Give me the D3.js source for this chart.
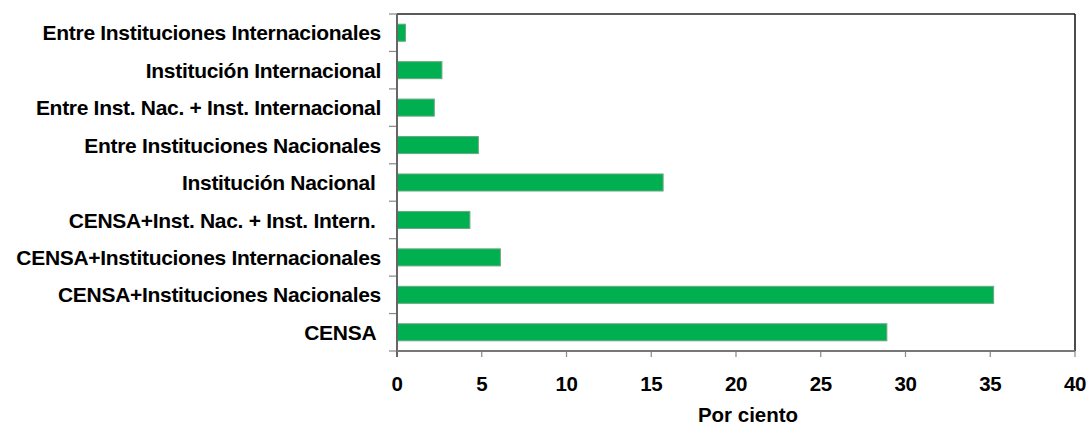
<!DOCTYPE html>
<html>
<head>
<meta charset="utf-8">
<script src="https://cdn.jsdelivr.net/npm/d3@7"></script>
<style>
  body { margin: 0; background: #fff; }
  svg { display: block; font-family: "Liberation Sans", Arial, sans-serif; }
  .lbl { font-weight: bold; white-space: pre; }
</style>
</head>
<body>
<svg id="chart"></svg>
<script>
// categories, top to bottom as shown
const categories = [
  'Entre Instituciones Internacionales',
  'Institución Internacional',
  'Entre Inst. Nac. + Inst. Internacional',
  'Entre Instituciones Nacionales',
  'Institución Nacional ',
  'CENSA+Inst. Nac. + Inst. Intern. ',
  'CENSA+Instituciones Internacionales',
  'CENSA+Instituciones Nacionales',
  'CENSA '
]
const values = [0.5, 2.65, 2.2, 4.8, 15.7, 4.3, 6.1, 35.2, 28.9]
const xTicks = [0, 5, 10, 15, 20, 25, 30, 35, 40]
const xTitle = 'Por ciento'

const width = 1088, height = 425
const m = { left: 397, right: 1075, top: 14, bottom: 351 }

const svg = d3.select('#chart')
  .attr('width', width)
  .attr('height', height)

const x = d3.scaleLinear()
  .domain([0, 40])
  .range([m.left, m.right])

const y = d3.scaleBand()
  .domain(categories)
  .range([m.top, m.bottom])
  .paddingInner(0.545)
  .paddingOuter(0.2725)

const step = y.step()
const gap = (step - y.bandwidth()) / 2

// bars
svg.selectAll('rect.bar')
  .data(values)
  .enter()
  .append('rect')
  .attr('class', 'bar')
  .attr('x', x(0))
  .attr('y', (d, i) => y(categories[i]))
  .attr('width', d => x(d) - x(0))
  .attr('height', y.bandwidth())
  .attr('fill', '#00b050')
  .attr('stroke', '#6aa882')
  .attr('stroke-width', 1)

// frame: top and right
svg.append('line')
  .attr('x1', m.left).attr('x2', m.right)
  .attr('y1', m.top).attr('y2', m.top)
  .attr('stroke', '#222').attr('stroke-width', 1.5)
svg.append('line')
  .attr('x1', m.right).attr('x2', m.right)
  .attr('y1', m.top).attr('y2', m.bottom)
  .attr('stroke', '#111').attr('stroke-width', 1.5)

// y axis ticks at category boundaries
const bounds = categories.map(c => y(c) - gap).concat([m.bottom])
svg.selectAll('line.ytick')
  .data(bounds)
  .enter()
  .append('line')
  .attr('x1', m.left - 8).attr('x2', m.left)
  .attr('y1', d => d).attr('y2', d => d)
  .attr('stroke', '#888').attr('stroke-width', 1.2)

// x axis ticks
svg.selectAll('line.xtick')
  .data(xTicks)
  .enter()
  .append('line')
  .attr('x1', d => x(d)).attr('x2', d => x(d))
  .attr('y1', m.bottom).attr('y2', m.bottom + 6)
  .attr('stroke', '#888').attr('stroke-width', 1.2)

// axis lines
svg.append('line')
  .attr('x1', m.left).attr('x2', m.left)
  .attr('y1', m.top).attr('y2', m.bottom + 6)
  .attr('stroke', '#666').attr('stroke-width', 2)
svg.append('line')
  .attr('x1', m.left).attr('x2', m.right)
  .attr('y1', m.bottom).attr('y2', m.bottom)
  .attr('stroke', '#777').attr('stroke-width', 2)

// category labels
svg.selectAll('text.cat')
  .data(categories)
  .enter()
  .append('text')
  .attr('class', 'lbl')
  .attr('x', 381)
  .attr('y', d => y(d) + y.bandwidth() / 2)
  .attr('dy', '0.36em')
  .attr('text-anchor', 'end')
  .attr('font-size', 21)
  .attr('letter-spacing', -0.3)
  .text(d => d)

// x tick labels
svg.selectAll('text.xt')
  .data(xTicks)
  .enter()
  .append('text')
  .attr('class', 'lbl')
  .attr('x', d => x(d))
  .attr('y', 391)
  .attr('text-anchor', 'middle')
  .attr('font-size', 20.5)
  .attr('letter-spacing', -0.5)
  .text(d => d)

// x title
svg.append('text')
  .attr('class', 'lbl')
  .attr('x', 748)
  .attr('y', 422)
  .attr('text-anchor', 'middle')
  .attr('font-size', 20.5)
  .text(xTitle)
</script>
</body>
</html>
